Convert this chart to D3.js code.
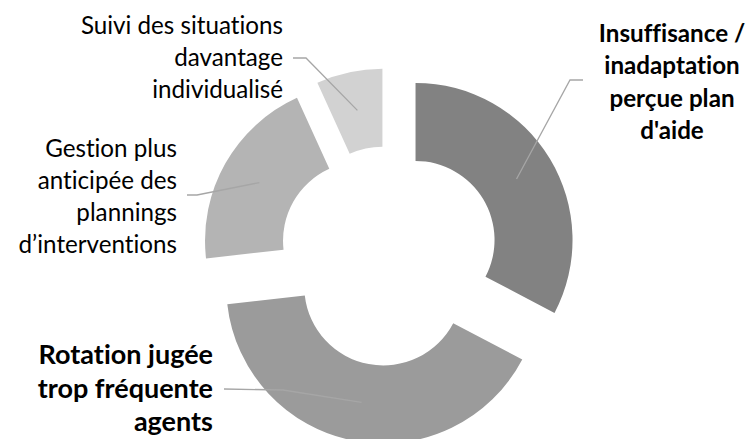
<!DOCTYPE html>
<html><head><meta charset="utf-8">
<script src="https://cdn.jsdelivr.net/npm/d3@7"></script>
<style>
html,body{margin:0;padding:0;background:#fff;}
svg{display:block;}
text{font-family:Lato,"Open Sans",sans-serif;fill:#000;font-variant-ligatures:none;font-feature-settings:"liga" 0,"clig" 0;}
</style></head>
<body>
<svg id="chart" width="747" height="439"></svg>
<script>
// Data
const categories = [
  "Insuffisance / inadaptation perçue plan d'aide",
  "Rotation jugée trop fréquente agents",
  "Gestion plus anticipée des plannings d’interventions",
  "Suivi des situations davantage individualisé"
];
const values = [32.7, 40.5, 20.0, 6.8];
const labelLines = [
  ["Insuffisance /", "inadaptation", "perçue plan", "d'aide"],
  ["Rotation jugée", "trop fréquente", "agents"],
  ["Gestion plus", "anticipée des", "plannings", "d’interventions"],
  ["Suivi des situations", "davantage", "individualisé"]
];
const colors = ["#828282", "#9b9b9b", "#b4b4b4", "#d2d2d2"];

// Layout / style
const W = 747, H = 439;
const cx = 389, cy = 256, R = 157, r = 79, explode = 31;
const labelLayout = [
  {elbow:[570,80], end:[583,80], tx:672, ty:82, anchor:"middle", size:24.2, weight:"bold", lh:32.5},
  {elbow:[283,390], end:[224,389], tx:213, ty:388.5, anchor:"end", size:27, weight:"bold", lh:33.5},
  {elbow:[197,195], end:[187,195], tx:177, ty:197, anchor:"end", size:24.2, weight:"normal", lh:32},
  {elbow:[306,58], end:[293,58], tx:283, ty:57.5, anchor:"end", size:24.2, weight:"normal", lh:32}
];

const svg = d3.select("#chart");
const pie = d3.pie().sort(null).value(d => d);
const arcs = pie(values);
const arc = d3.arc().innerRadius(r).outerRadius(R);

const g = svg.append("g").attr("transform", `translate(${cx},${cy})`);

const offset = d => {
  const a = (d.startAngle + d.endAngle) / 2;
  return [Math.sin(a) * explode, -Math.cos(a) * explode];
};

g.selectAll("path.slice").data(arcs).join("path")
  .attr("class", "slice")
  .attr("d", arc)
  .attr("fill", (d, i) => colors[i])
  .attr("transform", d => { const o = offset(d); return `translate(${o[0]},${o[1]})`; });

arcs.forEach((d, i) => {
  const o = offset(d);
  const c = arc.centroid(d);
  const p0 = [cx + o[0] + c[0], cy + o[1] + c[1]];
  const L = labelLayout[i];
  svg.append("polyline")
    .attr("points", [p0, L.elbow, L.end].map(p => p.join(",")).join(" "))
    .attr("fill", "none")
    .attr("stroke", "#a6a6a6")
    .attr("stroke-width", 1.3);
  const lines = labelLines[i];
  const t = svg.append("text")
    .attr("text-anchor", L.anchor)
    .attr("font-size", L.size)
    .attr("font-weight", L.weight);
  const y0 = L.ty - (lines.length - 1) * L.lh / 2;
  lines.forEach((s, k) => {
    t.append("tspan").attr("x", L.tx).attr("y", y0 + k * L.lh).attr("dy", "0.35em").text(s);
  });
});
</script>
</body></html>
